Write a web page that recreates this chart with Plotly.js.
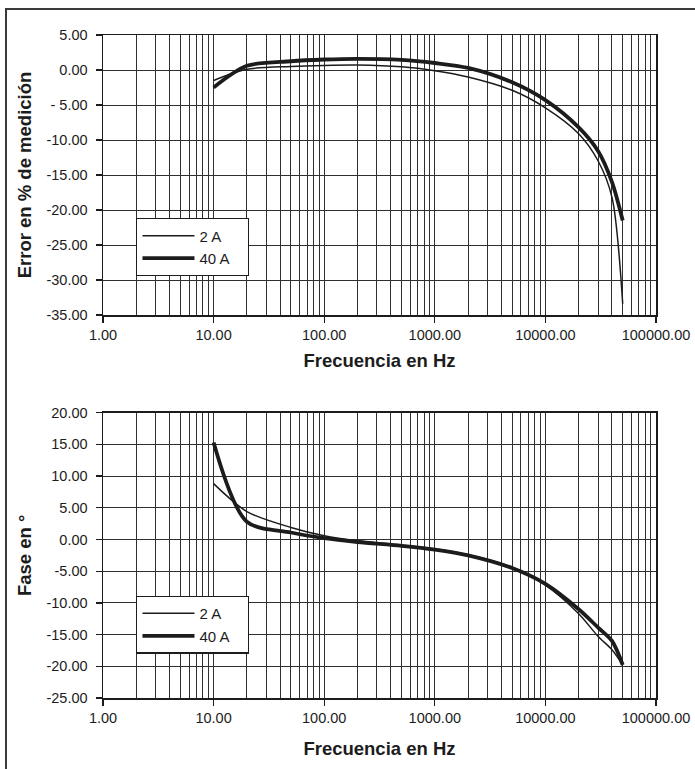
<!DOCTYPE html>
<html>
<head>
<meta charset="utf-8">
<script src="https://cdn.plot.ly/plotly-3.0.1.min.js"></script>
<style>
  html, body { margin: 0; padding: 0; background: #fff; }
  #wrap { position: relative; width: 695px; height: 769px; overflow: hidden; }
  #chart { width: 695px; height: 769px; }
  #frame { position: absolute; left: 5px; top: 8px; width: 720px; height: 800px;
           border-left: 2px solid #3a3a3a; border-top: 2px solid #3a3a3a; pointer-events: none; }
</style>
</head>
<body>
<div id="wrap"><div id="chart"></div><div id="frame"></div></div>
<script>
// Frequencies (Hz)
const freq = [10, 20, 50, 100, 200, 500, 1000, 2000, 5000, 10000, 20000, 30000, 40000, 50000];
// Error in % of measurement
const err2A  = [-1.5, 0.1, 0.5, 0.65, 0.7, 0.45, -0.1, -1.0, -2.9, -5.4, -9.1, -13.0, -18.2, -33.4];
const err40A = [-2.5, 0.6, 1.25, 1.5, 1.6, 1.45, 1.0, 0.3, -1.75, -4.3, -8.2, -11.6, -16.0, -21.5];
// Phase in degrees
const fase2A  = [8.8, 4.4, 1.9, 0.6, -0.2, -0.9, -1.5, -2.4, -4.4, -7.2, -11.7, -15.3, -17.4, -19.8];
const fase40A = [15.3, 2.8, 1.1, 0.2, -0.4, -1.0, -1.6, -2.5, -4.5, -7.0, -11.0, -13.9, -16.0, -19.8];
// Series names
const seriesNames = ['2 A', '40 A'];
// Tick labels
const xTickVals = [1, 10, 100, 1000, 10000, 100000];
const xTickText = ['1.00', '10.00', '100.00', '1000.00', '10000.00', '100000.00'];
const errTickVals = [5, 0, -5, -10, -15, -20, -25, -30, -35];
const errTickText = ['5.00', '0.00', '- 5.00', '-10.00', '-15.00', '-20.00', '-25.00', '-30.00', '-35.00'];
const faseTickVals = [20, 15, 10, 5, 0, -5, -10, -15, -20, -25];
const faseTickText = ['20.00', '15.00', '10.00', '5.00', '0.00', '-5.00', '-10.00', '-15.00', '-20.00', '-25.00'];

const FONT = 'Liberation Sans, Arial, Helvetica, sans-serif';
const INK = '#1c1c1c';
const GRID = '#303030';
const PAD = '\u00a0\u00a0\u00a0';

function line(x, y, name, w, xa, ya, leg) {
  return {
    type: 'scatter', mode: 'lines', x: x, y: y, name: name + PAD,
    xaxis: xa, yaxis: ya, legend: leg, showlegend: true,
    line: { color: INK, width: w, shape: 'spline', smoothing: 0.85 },
    hoverinfo: 'skip'
  };
}

const data = [
  line(freq, err2A, seriesNames[0], 1.5, 'x', 'y', 'legend'),
  line(freq, err40A, seriesNames[1], 3.8, 'x', 'y', 'legend'),
  line(freq, fase2A, seriesNames[0], 1.5, 'x2', 'y2', 'legend2'),
  line(freq, fase40A, seriesNames[1], 3.8, 'x2', 'y2', 'legend2')
];

function xaxis(anchor, standoff) {
  return {
    type: 'log', range: [0, 5], domain: [0, 1], anchor: anchor, automargin: false,
    tickmode: 'array', tickvals: xTickVals, ticktext: xTickText,
    ticks: 'outside', ticklen: 6, tickwidth: 1.3, tickcolor: INK,
    showgrid: true, gridcolor: GRID, gridwidth: 1,
    showline: true, linecolor: INK, linewidth: 1.5, mirror: true,
    zeroline: false,
    minor: { tickmode: 'linear', dtick: 'D1', showgrid: true, gridcolor: GRID, gridwidth: 1, ticks: '' },
    tickfont: { family: FONT, size: 14.5, color: INK },
    title: { text: 'Frecuencia en Hz', standoff: standoff, font: { family: FONT, size: 18.5, color: INK, weight: 'bold' } }
  };
}
function yaxis(anchor, domain, range, vals, text, title) {
  return {
    domain: domain, range: range, anchor: anchor, automargin: false,
    tickmode: 'array', tickvals: vals, ticktext: text,
    ticks: 'outside', ticklen: 6, tickwidth: 1.3, tickcolor: INK, ticklabelstandoff: 5,
    showgrid: true, gridcolor: GRID, gridwidth: 1,
    showline: true, linecolor: INK, linewidth: 1.5, mirror: true,
    zeroline: false,
    tickfont: { family: FONT, size: 14.5, color: INK },
    title: { text: title, standoff: 10, font: { family: FONT, size: 18.5, color: INK, weight: 'bold' } }
  };
}

const legendStyle = {
  x: 0.06, xanchor: 'left', yanchor: 'top',
  bgcolor: '#ffffff', bordercolor: INK, borderwidth: 1.3,
  font: { family: FONT, size: 15, color: INK },
  itemwidth: 52, tracegroupgap: 0
};

const layout = {
  width: 695, height: 769,
  margin: { l: 102.5, r: 38.5, t: 34.7, b: 70.7 },
  paper_bgcolor: '#ffffff', plot_bgcolor: '#ffffff',
  font: { family: FONT, color: INK },
  xaxis: xaxis('y', 12),
  yaxis: yaxis('x', [0.5776, 1], [-35, 5], errTickVals, errTickText, 'Error en % de medición'),
  xaxis2: xaxis('y2', 17),
  yaxis2: yaxis('x2', [0, 0.4304], [-25, 20], faseTickVals, faseTickText, 'Fase en °'),
  legend: Object.assign({}, legendStyle, { y: 0.7238 }),
  legend2: Object.assign({}, legendStyle, { y: 0.1542 }),
  showlegend: true
};

Plotly.newPlot('chart', data, layout, { staticPlot: true, displayModeBar: false });
</script>
</body>
</html>
